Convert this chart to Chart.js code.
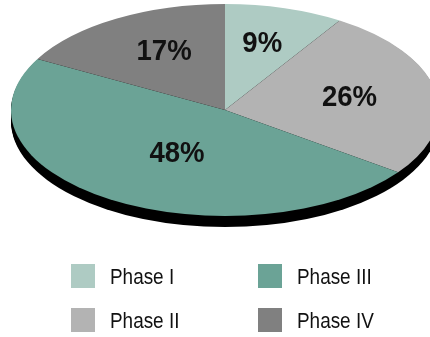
<!DOCTYPE html>
<html>
<head>
<meta charset="utf-8">
<script src="https://cdn.jsdelivr.net/npm/chart.js@4/dist/chart.umd.min.js"></script>
<style>
  html, body { margin: 0; padding: 0; background: #fff; }
  canvas { display: block; }
</style>
</head>
<body>
<canvas id="c" width="430" height="337"></canvas>
<script>
// Share of trials by phase (percent)
const phases = ['Phase I', 'Phase II', 'Phase III', 'Phase IV'];
const shares = [9, 26, 48, 17];
const sliceColors = ['#aecbc3', '#b3b3b3', '#6ba396', '#808080'];

// Tilted-disc geometry: top face ellipse and the depth of its dark rim
const face = { cx: 225, cy: 110, rx: 214, ry: 106, depth: 11 };
// Where each value label sits along its slice's mid-angle
// (horizontal and vertical fraction of the face radii)
const labelSpot = [[0.633, 0.668], [0.595, 0.705], [0.418, 0.466], [0.554, 0.654]];
const labelFont = 'bold 29px "Liberation Sans", Arial, sans-serif';
const labelSqueeze = 0.95;
const legendFont = '22px "Liberation Sans", Arial, sans-serif';
const legendSqueeze = 0.86;
const legendCols = [71, 258];
const legendRows = [264, 308];
const legendBox = 24;

function faceTransform(ctx, meta) {
  const arc = meta.data[0];
  const R = arc.outerRadius;
  ctx.translate(face.cx, face.cy);
  ctx.scale(face.rx / R, face.ry / R);
  ctx.translate(-arc.x, -arc.y);
}

// condensed text: draw with a horizontal squeeze around the anchor
function narrowText(ctx, text, x, y, squeeze) {
  ctx.save();
  ctx.translate(x, y);
  ctx.scale(squeeze, 1);
  ctx.fillText(text, 0, 0);
  ctx.restore();
}

// condensed text whose inked box is centred on (x, y)
function centredInk(ctx, text, x, y, squeeze) {
  const m = ctx.measureText(text);
  const left = -m.actualBoundingBoxLeft, right = m.actualBoundingBoxRight;
  const top = -m.actualBoundingBoxAscent, bottom = m.actualBoundingBoxDescent;
  ctx.save();
  ctx.translate(x, y);
  ctx.scale(squeeze, 1);
  ctx.fillText(text, -(left + right) / 2, -(top + bottom) / 2);
  ctx.restore();
}

const tiltedPie = {
  id: 'tiltedPie',
  beforeDatasetsDraw(chart) {
    const ctx = chart.ctx;
    // dark rim under the disc
    ctx.save();
    ctx.fillStyle = '#000';
    for (let d = 1; d <= face.depth; d++) {
      ctx.beginPath();
      ctx.ellipse(face.cx, face.cy + d, face.rx, face.ry, 0, 0, Math.PI * 2);
      ctx.fill();
    }
    ctx.restore();
    // squash the round pie into the top face
    ctx.save();
    faceTransform(ctx, chart.getDatasetMeta(0));
  },
  afterDatasetsDraw(chart) {
    const ctx = chart.ctx;
    ctx.restore();
    const meta = chart.getDatasetMeta(0);
    const data = chart.data.datasets[0].data;
    ctx.save();
    ctx.font = labelFont;
    ctx.fillStyle = '#111';
    ctx.textAlign = 'left';
    ctx.textBaseline = 'alphabetic';
    meta.data.forEach((arc, i) => {
      const mid = (arc.startAngle + arc.endAngle) / 2;
      const [fx, fy] = labelSpot[i];
      const x = face.cx + face.rx * fx * Math.cos(mid);
      const y = face.cy + face.ry * fy * Math.sin(mid);
      centredInk(ctx, data[i] + '%', x, y, labelSqueeze);
    });
    ctx.restore();
  },
  afterDraw(chart) {
    // two-column legend, filled column by column
    const ctx = chart.ctx;
    const colors = chart.data.datasets[0].backgroundColor;
    ctx.save();
    ctx.font = legendFont;
    ctx.textAlign = 'left';
    ctx.textBaseline = 'middle';
    chart.data.labels.forEach((name, i) => {
      const x = legendCols[Math.floor(i / 2)];
      const y = legendRows[i % 2];
      ctx.fillStyle = colors[i];
      ctx.fillRect(x, y, legendBox, legendBox);
      ctx.fillStyle = '#111';
      narrowText(ctx, name, x + legendBox + 15, y + legendBox / 2 + 2, legendSqueeze);
    });
    ctx.restore();
  }
};

new Chart(document.getElementById('c'), {
  type: 'pie',
  data: {
    labels: phases,
    datasets: [{
      data: shares,
      backgroundColor: sliceColors,
      borderWidth: 0,
      clip: false
    }]
  },
  options: {
    responsive: false,
    animation: false,
    events: [],
    layout: { padding: 0 },
    plugins: {
      legend: { display: false },
      tooltip: { enabled: false }
    }
  },
  plugins: [tiltedPie]
});
</script>
</body>
</html>
